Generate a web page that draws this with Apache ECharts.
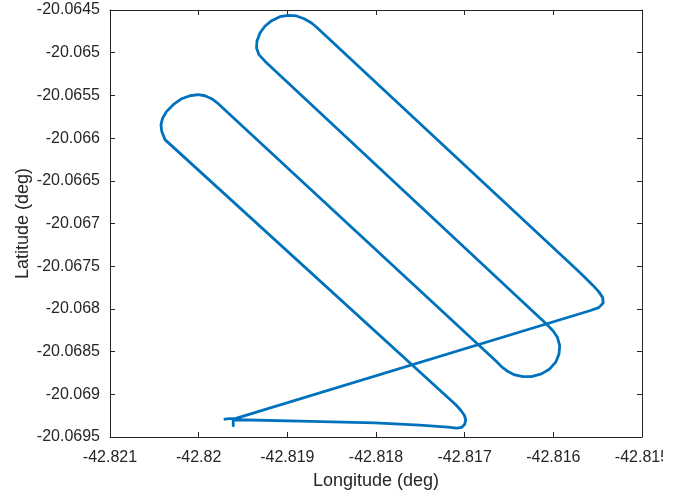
<!DOCTYPE html>
<html>
<head>
<meta charset="utf-8">
<script src="https://cdn.jsdelivr.net/npm/echarts@6/dist/echarts.min.js"></script>
<style>
  html, body { margin: 0; background: #fff; }
  #chart { width: 686px; height: 495px; }
</style>
</head>
<body>
<div id="chart"></div>
<script>
// GPS track (in flight order)
const lon = [
  -42.819610, -42.819610, -42.819569, -42.818859, -42.818013, -42.817506, -42.817190, -42.817089,
  -42.817033, -42.816999, -42.816988, -42.817004, -42.817044, -42.817100,
  -42.820380, -42.820417, -42.820425, -42.820406, -42.820361, -42.820287, -42.820192, -42.820098,
  -42.820005, -42.819929, -42.819854, -42.819779,
  -42.816641, -42.816585, -42.816511, -42.816435, -42.816342, -42.816247, -42.816134, -42.816041,
  -42.815973, -42.815936, -42.815928, -42.815954, -42.816004, -42.816078,
  -42.819253, -42.819321, -42.819347, -42.819343, -42.819309, -42.819253, -42.819177, -42.819084,
  -42.818990, -42.818896, -42.818810, -42.818727, -42.818670,
  -42.815740, -42.815646, -42.815556, -42.815488, -42.815443, -42.815438, -42.815488, -42.815590,
  -42.819580, -42.819659, -42.819704
]
const lat = [
  -20.069368, -20.069304, -20.069298, -20.069313, -20.069335, -20.069360, -20.069384, -20.069395,
  -20.069386, -20.069351, -20.069298, -20.069245, -20.069187, -20.069123,
  -20.066018, -20.065921, -20.065843, -20.065764, -20.065687, -20.065609, -20.065539, -20.065504,
  -20.065492, -20.065504, -20.065539, -20.065597,
  -20.068617, -20.068676, -20.068734, -20.068773, -20.068793, -20.068793, -20.068761, -20.068703,
  -20.068624, -20.068528, -20.068431, -20.068333, -20.068256, -20.068177,
  -20.065099, -20.065022, -20.064944, -20.064865, -20.064769, -20.064690, -20.064625, -20.064578,
  -20.064562, -20.064570, -20.064602, -20.064652, -20.064702,
  -20.067535, -20.067629, -20.067722, -20.067798, -20.067868, -20.067932, -20.067985, -20.068022,
  -20.069281, -20.069284, -20.069292
]
const xTicks = [-42.821, -42.82, -42.819, -42.818, -42.817, -42.816, -42.815]
const yTicks = [-20.0695, -20.069, -20.0685, -20.068, -20.0675, -20.067, -20.0665, -20.066, -20.0655, -20.065, -20.0645]

const axisColor = '#262626'
const font = "'Liberation Sans', Arial, Helvetica, sans-serif"

const chart = echarts.init(document.getElementById('chart'), null, { renderer: 'canvas' })

function axis(pos, ticks, step, extra) {
  return Object.assign({
    type: 'value',
    position: pos,
    min: ticks[0],
    max: ticks[ticks.length - 1],
    interval: step,
    splitLine: { show: false },
    axisLine: { show: true, onZero: false, lineStyle: { color: axisColor, width: 1 } },
    axisTick: { show: true, inside: true, length: 5, lineStyle: { color: axisColor } },
    axisLabel: { show: false }
  }, extra)
}

chart.setOption({
  animation: false,
  backgroundColor: '#fff',
  grid: { left: 110, right: 44, top: 10, bottom: 57, containLabel: false },
  xAxis: [
    axis('bottom', xTicks, 0.001, {
      name: 'Longitude (deg)',
      nameLocation: 'middle',
      nameGap: 35,
      nameMoveOverlap: false,
      nameTextStyle: { color: axisColor, fontSize: 18, fontFamily: font },
      axisLabel: {
        show: true, margin: 13, color: axisColor, fontSize: 16, fontFamily: font,
        formatter: (v) => String(xTicks.find((t) => Math.abs(t - v) < 1e-7) ?? v)
      }
    }),
    axis('top', xTicks, 0.001)
  ],
  yAxis: [
    axis('left', yTicks, 0.0005, {
      name: 'Latitude (deg)',
      nameLocation: 'middle',
      nameGap: 78,
      nameMoveOverlap: false,
      nameTextStyle: { color: axisColor, fontSize: 18, fontFamily: font },
      axisLabel: {
        show: true, margin: 10, color: axisColor, fontSize: 16, fontFamily: font,
        formatter: (v) => String(yTicks.find((t) => Math.abs(t - v) < 1e-8) ?? v)
      }
    }),
    axis('right', yTicks, 0.0005)
  ],
  series: [{
    type: 'line',
    xAxisIndex: 0,
    yAxisIndex: 0,
    data: lon.map((x, i) => [x, lat[i]]),
    showSymbol: false,
    clip: true,
    lineStyle: { color: '#0072BD', width: 2.8, join: 'round', cap: 'round' }
  }],
  // the source figure cuts the last tick label at its right edge
  graphic: [{
    type: 'rect', z: 100, silent: true,
    shape: { x: 663, y: 442, width: 30, height: 30 },
    style: { fill: '#fff' }
  }]
})
</script>
</body>
</html>
